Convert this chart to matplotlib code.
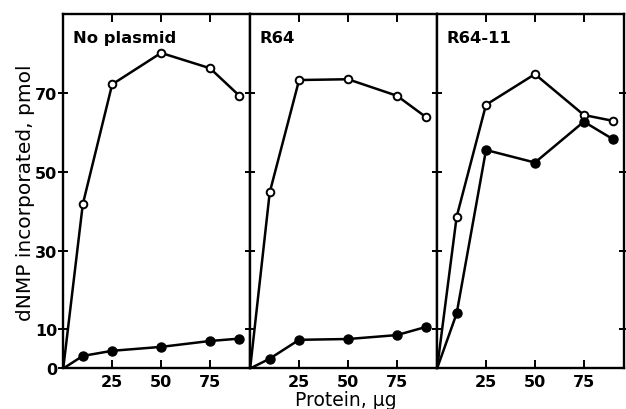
import matplotlib.pyplot as plt

plt.rcParams['font.family'] = ['DejaVu Sans']

protein = [0, 10, 25, 50, 75, 90]
panels = ['No plasmid', 'R64', 'R64-11']

# open circles
open_vals = [
    [0, 41.8, 72.3, 80.3, 76.4, 69.4],
    [0, 44.8, 73.4, 73.6, 69.4, 63.9],
    [0, 38.6, 67.1, 74.9, 64.5, 63.0],
]
# filled circles
filled_vals = [
    [0, 3.2, 4.5, 5.5, 7.0, 7.6],
    [0, 2.5, 7.3, 7.5, 8.5, 10.6],
    [0, 14.0, 55.6, 52.4, 62.8, 58.3],
]

xticks = [25, 50, 75]
yticks = [0, 10, 30, 50, 70]

fig = plt.figure(figsize=(6.26, 4.10), dpi=100)

left, bottom, height = 0.101, 0.0988, 0.8646
w = 0.2986

for i, name in enumerate(panels):
    ax = fig.add_axes([left + i * w, bottom, w, height])
    ax.plot(protein, open_vals[i], color='black', lw=1.8, marker='o',
            ms=5.5, mfc='white', mec='black', mew=1.4,
            markevery=slice(1, None), zorder=3)
    ax.plot(protein, filled_vals[i], color='black', lw=1.8, marker='o',
            ms=6.5, mfc='black', mec='black',
            markevery=slice(1, None), zorder=3)
    ax.set_xlim(0, 95.5)
    ax.set_ylim(0, 90.2)
    ax.set_xticks(xticks)
    ax.set_yticks(yticks if i == 0 else [10, 30, 50, 70])
    for s in ax.spines.values():
        s.set_linewidth(1.7)
    ax.tick_params(axis='x', direction='in', length=6, width=1.4,
                   top=True, bottom=True, pad=4, labelsize=11.5)
    ax.tick_params(axis='y', direction='inout', length=7, width=1.4,
                   left=True, right=True, labelleft=(i == 0),
                   labelsize=11.5, pad=1)
    for lab in ax.get_xticklabels() + ax.get_yticklabels():
        lab.set_fontweight('bold')
    ax.text(0.05, 0.935, name, transform=ax.transAxes, fontsize=11.8,
            fontweight='bold', va='center', ha='left')

fig.text(0.04, 0.53, 'dNMP incorporated, pmol', rotation=90,
         fontsize=14.5, ha='center', va='center')
fig.text(0.552, 0.022, 'Protein, \u03bcg', fontsize=13.5,
         ha='center', va='center')

fig.savefig('out.png', dpi=100)
